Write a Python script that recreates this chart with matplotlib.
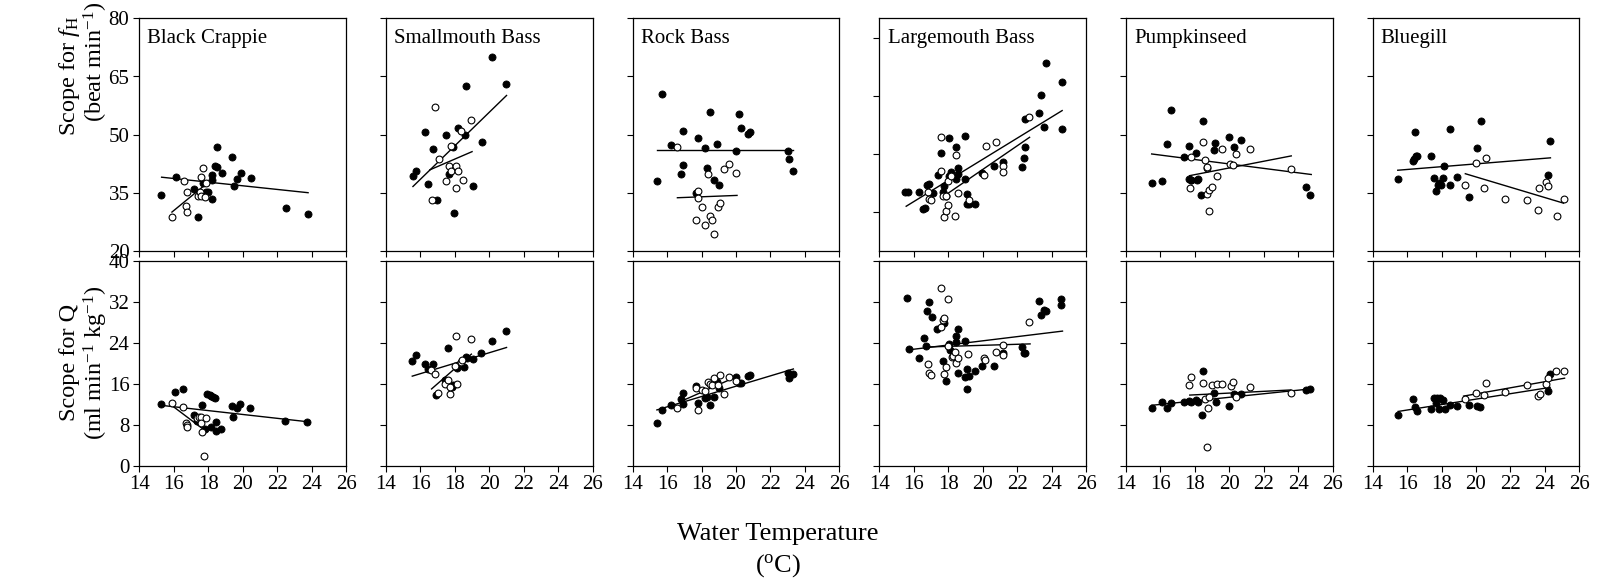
"""
Scope for heart rate (fH) and cardiac output (Q) vs water temperature,
six centrarchid species. Filled and open symbols are two groups, each with
its own least-squares line (end points read off the original figure).
"""
import matplotlib
matplotlib.use("Agg")
import matplotlib.pyplot as plt

plt.rcParams["font.family"] = ["Liberation Serif", "DejaVu Serif"]
plt.rcParams["mathtext.fontset"] = "custom"
plt.rcParams["mathtext.rm"] = "Liberation Serif"
plt.rcParams["mathtext.it"] = "Liberation Serif:italic"

SPECIES = ["Black Crappie", "Smallmouth Bass", "Rock Bass",
           "Largemouth Bass", "Pumpkinseed", "Bluegill"]
X_TICKS = [14, 16, 18, 20, 22, 24, 26]
FH_TICKS = [20, 35, 50, 65, 80]
FH_TICKS_LM = [30, 45, 60, 75]   # the Largemouth panel has its ticks shifted
Q_TICKS = [0, 8, 16, 24, 32, 40]

# ---- scope for fH (beat min-1) ----
BC_FH_FILLED = [(15.29, 34.5), (16.12, 39.0), (17.2, 36.0), (17.4, 28.7), (17.7, 37.6),
                (17.9, 35.1), (18.0, 35.1), (18.2, 33.5), (18.2, 39.6), (18.2, 38.3),
                (18.4, 42.0), (18.5, 41.7), (18.5, 46.9), (18.8, 40.1), (19.4, 44.3),
                (19.5, 36.8), (19.7, 38.6), (19.9, 40.0), (20.5, 38.7), (22.5, 31.1),
                (23.8, 29.6)]
BC_FH_OPEN = [(15.9, 28.6), (16.6, 38.1), (16.7, 31.5), (16.8, 35.1), (16.8, 30.0),
              (17.4, 34.1), (17.5, 35.2), (17.6, 39.0), (17.6, 34.1), (17.7, 41.5),
              (17.8, 33.8), (17.9, 37.5)]
BC_FH_LINES = [((15.3, 23.8), (39.0, 35.0)), ((15.9, 17.9), (30.0, 37.3))]

SB_FH_FILLED = [(15.57, 39.2), (15.76, 40.5), (16.27, 50.7), (16.47, 37.3), (16.76, 46.4),
                (16.98, 33.0), (17.47, 49.8), (17.67, 39.8), (17.88, 46.8), (17.98, 29.8),
                (18.18, 51.6), (18.57, 49.9), (18.67, 62.6), (19.06, 36.8), (19.55, 48.0),
                (20.16, 70.1), (20.96, 63.0)]
SB_FH_OPEN = [(16.67, 33.2), (16.86, 57.1), (17.06, 43.6), (17.47, 38.0), (17.67, 41.9),
              (17.76, 40.6), (17.76, 47.1), (18.06, 42.0), (18.06, 36.1), (18.16, 40.7),
              (18.37, 50.9), (18.47, 38.3), (18.96, 53.7)]
SB_FH_LINES = [((15.57, 21.0), (36.6, 60.1)), ((16.55, 19.0), (40.9, 45.6))]

RB_FH_FILLED = [(15.41, 38.1), (15.71, 60.6), (16.2, 47.2), (16.8, 39.9), (16.9, 42.1),
                (16.9, 51.0), (17.69, 34.8), (17.8, 49.0), (18.2, 46.6), (18.3, 41.5),
                (18.5, 55.8), (18.7, 38.3), (18.9, 47.5), (19.0, 36.9), (20.0, 45.7),
                (20.2, 55.2), (20.3, 51.8), (20.7, 50.1), (20.8, 50.7), (23.0, 45.7),
                (23.1, 43.8), (23.3, 40.5)]
RB_FH_OPEN = [(16.59, 46.7), (17.69, 27.9), (17.8, 35.4), (17.8, 33.7), (18.0, 31.4),
              (18.2, 26.7), (18.4, 39.7), (18.5, 29.0), (18.6, 27.9), (18.7, 24.3),
              (18.98, 31.2), (19.1, 32.4), (19.3, 41.2), (19.6, 42.3), (20.0, 40.2)]
RB_FH_LINES = [((15.4, 23.3), (46.0, 46.0)), ((16.6, 20.06), (33.7, 34.3))]

LM_FH_FILLED = [(15.52, 35.1), (15.69, 35.1), (16.3, 35.1), (16.56, 30.8), (16.66, 31.0),
                (16.74, 37.1), (16.87, 37.3), (17.09, 35.0), (17.39, 39.5), (17.56, 45.3),
                (17.68, 35.1), (17.78, 36.7), (17.88, 34.1), (18.07, 49.0), (18.07, 39.3),
                (18.17, 40.3), (18.45, 38.6), (18.47, 46.7), (18.57, 41.5), (18.57, 39.8),
                (18.98, 49.6), (18.98, 38.5), (19.08, 34.6), (19.08, 32.1), (19.2, 32.1),
                (19.57, 32.1), (19.96, 40.0), (20.67, 42.0), (21.19, 43.0), (22.27, 41.6),
                (22.41, 43.9), (22.46, 46.7), (22.48, 53.9), (23.27, 55.5), (23.39, 60.2),
                (23.57, 52.0), (23.69, 68.4), (24.61, 63.6), (24.61, 51.4)]
LM_FH_OPEN = [(16.8, 35.1), (16.89, 33.5), (16.99, 33.2), (17.56, 49.3), (17.58, 40.7),
              (17.68, 34.2), (17.78, 28.8), (17.88, 30.3), (17.88, 34.2), (17.98, 31.8),
              (18.0, 38.0), (18.15, 39.4), (18.39, 28.9), (18.47, 44.8), (18.59, 34.8),
              (19.18, 33.2), (20.08, 39.5), (20.18, 47.1), (20.79, 48.2), (21.19, 42.0),
              (21.19, 40.4), (22.7, 54.5)]
LM_FH_LINES = [((15.56, 24.61), (31.5, 56.2)), ((17.84, 22.72), (34.4, 49.3))]

PS_FH_FILLED = [(15.49, 37.5), (16.1, 38.0), (16.39, 47.6), (16.59, 56.4), (17.39, 44.2),
                (17.67, 47.0), (17.65, 38.5), (17.75, 38.2), (17.8, 38.4), (18.08, 45.3),
                (18.12, 38.3), (18.18, 38.5), (18.37, 34.4), (18.47, 53.4), (19.08, 46.1),
                (19.18, 47.8), (19.98, 49.5), (20.27, 46.7), (20.67, 48.6), (24.47, 36.4),
                (24.69, 34.4)]
PS_FH_OPEN = [(17.69, 36.1), (17.8, 44.3), (18.47, 48.1), (18.61, 43.4), (18.69, 41.4),
              (18.7, 41.6), (18.7, 34.6), (18.8, 35.7), (18.8, 30.2), (18.98, 36.6),
              (19.27, 39.3), (19.57, 46.2), (20.06, 42.4), (20.18, 42.2), (20.37, 45.1),
              (21.18, 46.3), (23.57, 41.2)]
PS_FH_LINES = [((15.49, 24.75), (45.0, 39.7)), ((17.69, 23.59), (39.4, 44.5))]

BG_FH_FILLED = [(15.46, 38.5), (16.35, 43.3), (16.43, 43.8), (16.51, 44.4), (16.58, 44.6),
                (16.45, 50.8), (17.37, 44.4), (17.57, 38.7), (17.67, 35.4), (17.77, 37.1),
                (17.87, 37.4), (17.96, 37.1), (18.06, 38.9), (18.16, 41.9), (18.48, 51.4),
                (18.48, 37.0), (18.87, 39.1), (19.58, 33.8), (20.06, 46.5), (20.27, 53.6),
                (24.18, 39.5), (24.28, 48.3)]
BG_FH_OPEN = [(19.36, 37.1), (19.98, 42.6), (20.59, 43.9), (20.47, 36.1), (21.67, 33.4),
              (22.97, 33.0), (23.59, 30.5), (23.68, 36.1), (24.08, 37.7), (24.18, 36.7),
              (24.69, 29.0), (25.08, 33.4)]
BG_FH_LINES = [((15.46, 24.32), (40.8, 44.0)), ((19.38, 25.08), (39.9, 32.3))]

# ---- scope for Q (ml min-1 kg-1) ----
BC_Q_FILLED = [(15.27, 12.1), (16.08, 14.4), (16.57, 15.0), (17.18, 9.9), (17.37, 8.8),
               (17.67, 11.8), (17.84, 7.1), (17.96, 14.1), (18.08, 13.9), (18.18, 13.7),
               (18.18, 7.5), (18.27, 13.4), (18.37, 13.2), (18.47, 8.6), (18.47, 6.7),
               (18.76, 7.2), (19.37, 11.6), (19.47, 9.6), (19.67, 11.2), (19.86, 12.1),
               (20.45, 11.3), (22.45, 8.8), (23.75, 8.6)]
BC_Q_OPEN = [(15.88, 12.2), (16.57, 11.4), (16.69, 8.4), (16.78, 7.9), (16.78, 7.5),
             (17.37, 9.3), (17.47, 9.5), (17.57, 9.6), (17.57, 8.4), (17.67, 6.6),
             (17.86, 9.3), (17.76, 1.8)]
BC_Q_LINES = [((15.27, 23.75), (11.8, 8.6)), ((15.88, 17.69), (11.8, 7.2))]

SB_Q_FILLED = [(15.53, 20.5), (15.75, 21.6), (16.24, 19.9), (16.43, 18.8), (16.73, 19.9),
               (16.92, 13.8), (17.43, 16.8), (17.63, 23.0), (17.83, 15.3), (17.92, 15.8),
               (18.14, 19.0), (18.53, 19.3), (18.63, 21.2), (18.73, 21.0), (19.05, 20.9),
               (19.54, 22.1), (20.16, 24.4), (20.95, 26.4)]
SB_Q_OPEN = [(16.63, 18.7), (16.83, 18.0), (17.02, 14.2), (17.43, 16.0), (17.63, 16.8),
             (17.72, 14.1), (17.72, 15.4), (18.02, 19.5), (18.04, 25.3), (18.14, 16.0),
             (18.34, 20.2), (18.44, 20.6), (18.94, 24.8)]
SB_Q_LINES = [((15.53, 21.0), (17.5, 23.1)), ((16.65, 18.96), (15.0, 21.8))]

RB_Q_FILLED = [(15.41, 8.3), (15.71, 10.9), (16.2, 11.9), (16.8, 13.0), (16.9, 14.2),
               (16.9, 12.1), (17.69, 15.5), (17.8, 12.2), (18.2, 13.3), (18.3, 13.5),
               (18.5, 11.9), (18.7, 13.5), (18.9, 16.4), (19.0, 15.1), (20.0, 17.3),
               (20.2, 16.2), (20.3, 16.2), (20.7, 17.5), (20.8, 17.7), (23.0, 18.2),
               (23.1, 17.2), (23.3, 17.9)]
RB_Q_OPEN = [(16.59, 11.3), (17.69, 15.1), (17.8, 10.9), (18.0, 14.8), (18.2, 14.6),
             (18.4, 16.4), (18.5, 15.9), (18.6, 15.7), (18.7, 17.2), (18.98, 15.7),
             (19.1, 17.7), (19.3, 14.1), (19.6, 17.3), (20.0, 16.6)]
RB_Q_LINES = [((15.41, 23.33), (10.9, 18.9)), ((16.76, 20.1), (12.5, 17.5))]

LM_Q_FILLED = [(15.61, 32.7), (15.71, 22.8), (16.29, 21.0), (16.59, 24.9), (16.69, 23.4),
               (16.78, 30.2), (16.88, 32.0), (17.08, 29.0), (17.37, 26.7), (17.67, 20.5),
               (17.76, 27.8), (17.88, 16.6), (18.06, 23.7), (18.08, 22.7), (18.45, 25.3),
               (18.47, 24.1), (18.57, 26.7), (18.57, 18.1), (18.96, 17.3), (18.98, 24.4),
               (19.06, 18.8), (19.08, 15.0), (19.18, 17.5), (19.57, 18.6), (19.98, 19.5),
               (20.67, 19.5), (21.18, 22.1), (22.27, 23.1), (22.37, 22.1), (22.47, 22.1),
               (23.27, 32.2), (23.39, 29.5), (23.57, 30.5), (23.69, 30.3), (24.57, 32.5),
               (24.57, 31.4)]
LM_Q_OPEN = [(16.8, 19.9), (16.9, 18.1), (17.0, 17.7), (17.59, 34.7), (17.59, 27.1),
             (17.69, 28.5), (17.78, 28.9), (17.78, 18.0), (17.88, 19.2), (17.98, 32.5),
             (18.0, 23.4), (18.2, 21.3), (18.29, 21.4), (18.39, 22.2), (18.47, 20.0),
             (18.59, 21.0), (19.16, 21.9), (20.06, 21.0), (20.16, 20.7), (20.76, 22.3),
             (21.18, 23.6), (21.18, 21.6), (22.67, 28.0)]
LM_Q_LINES = [((15.61, 24.63), (22.6, 26.3)), ((16.8, 22.75), (23.2, 23.8))]

PS_Q_FILLED = [(15.49, 11.2), (16.1, 12.5), (16.39, 11.2), (16.59, 12.3), (17.39, 12.4),
               (17.67, 12.7), (17.76, 12.5), (18.06, 12.8), (18.18, 12.4), (18.41, 9.9),
               (18.49, 18.6), (19.1, 14.2), (19.2, 12.5), (20.0, 11.7), (20.29, 14.0),
               (20.7, 14.0), (24.47, 14.8), (24.69, 14.9)]
PS_Q_OPEN = [(17.67, 15.7), (17.78, 17.3), (18.49, 16.2), (18.59, 13.1), (18.7, 3.6),
             (18.78, 11.2), (18.8, 13.5), (18.98, 15.7), (19.29, 16.0), (19.59, 16.0),
             (20.08, 15.5), (20.18, 16.3), (20.39, 13.5), (21.18, 15.3), (23.57, 14.3)]
PS_Q_LINES = [((15.49, 24.69), (11.8, 15.0)), ((17.7, 23.57), (13.8, 14.8))]

BG_Q_FILLED = [(15.48, 9.9), (16.36, 13.0), (16.46, 11.4), (16.56, 10.6), (17.37, 11.0),
               (17.54, 13.2), (17.66, 12.3), (17.74, 13.2), (17.86, 11.0), (17.94, 13.3),
               (18.06, 12.9), (18.19, 11.0), (18.49, 11.8), (18.88, 11.6), (19.57, 11.9),
               (20.06, 11.7), (20.26, 11.4), (24.18, 14.6), (24.28, 17.9)]
BG_Q_OPEN = [(19.37, 13.0), (19.98, 14.2), (20.48, 13.9), (20.59, 16.2), (21.68, 14.4),
             (22.98, 15.8), (23.57, 13.6), (23.69, 14.1), (24.08, 16.0), (24.18, 17.1),
             (24.67, 18.5), (25.08, 18.6)]
BG_Q_LINES = [((15.48, 24.30), (10.6, 15.3)), ((19.28, 25.14), (13.6, 17.1))]

FH_PANELS = [(BC_FH_FILLED, BC_FH_OPEN, BC_FH_LINES), (SB_FH_FILLED, SB_FH_OPEN, SB_FH_LINES),
             (RB_FH_FILLED, RB_FH_OPEN, RB_FH_LINES), (LM_FH_FILLED, LM_FH_OPEN, LM_FH_LINES),
             (PS_FH_FILLED, PS_FH_OPEN, PS_FH_LINES), (BG_FH_FILLED, BG_FH_OPEN, BG_FH_LINES)]
Q_PANELS = [(BC_Q_FILLED, BC_Q_OPEN, BC_Q_LINES), (SB_Q_FILLED, SB_Q_OPEN, SB_Q_LINES),
            (RB_Q_FILLED, RB_Q_OPEN, RB_Q_LINES), (LM_Q_FILLED, LM_Q_OPEN, LM_Q_LINES),
            (PS_Q_FILLED, PS_Q_OPEN, PS_Q_LINES), (BG_Q_FILLED, BG_Q_OPEN, BG_Q_LINES)]


def draw(ax, filled, hollow, lines):
    for xs, ys in lines:
        ax.plot(xs, ys, color="black", lw=1.0, zorder=2)
    ax.scatter([p[0] for p in filled], [p[1] for p in filled], s=26,
               facecolor="black", edgecolor="black", lw=0.6, zorder=3)
    ax.scatter([p[0] for p in hollow], [p[1] for p in hollow], s=24,
               facecolor="white", edgecolor="black", lw=0.8, zorder=3)


def style(ax, xlabels, ylabels):
    ax.set_xlim(14, 26)
    ax.set_xticks(X_TICKS)
    ax.tick_params(direction="out", length=4, width=0.8, labelsize=15,
                   labelbottom=xlabels, labelleft=ylabels, pad=3)
    for sp in ax.spines.values():
        sp.set_linewidth(0.9)


fig = plt.figure(figsize=(16.05, 5.79), dpi=100)
W, H = 1605.0, 579.0
lefts = [139.2, 385.9, 632.6, 879.3, 1126.0, 1372.6]
pw = 206.8

for i, name in enumerate(SPECIES):
    ax = fig.add_axes([lefts[i] / W, 1 - 250.8 / H, pw / W, 232.4 / H])
    draw(ax, *FH_PANELS[i])
    ax.set_ylim(20, 80)
    ax.set_yticks(FH_TICKS_LM if name == "Largemouth Bass" else FH_TICKS)
    style(ax, False, i == 0)
    ax.text(0.04, 0.955, name, transform=ax.transAxes, fontsize=15,
            ha="left", va="top")

    ax = fig.add_axes([lefts[i] / W, 1 - 465.7 / H, pw / W, 204.7 / H])
    draw(ax, *Q_PANELS[i])
    ax.set_ylim(0, 40)
    ax.set_yticks(Q_TICKS)
    style(ax, True, i == 0)

fig.text(70 / W, 1 - 76 / H, r"Scope for $\mathit{f}_{\rm H}$", rotation=90,
         ha="center", va="center", fontsize=17.5)
fig.text(96 / W, 1 - 62 / H, r"(beat min$^{-1}$)", rotation=90,
         ha="center", va="center", fontsize=17.5)
fig.text(70 / W, 1 - 362 / H, "Scope for Q", rotation=90,
         ha="center", va="center", fontsize=17.5)
fig.text(96 / W, 1 - 363 / H, r"(ml min$^{-1}$ kg$^{-1}$)", rotation=90,
         ha="center", va="center", fontsize=17.5)
fig.text(778 / W, 1 - 534 / H, "Water Temperature", ha="center", va="center",
         fontsize=19)
fig.text(778 / W, 1 - 566 / H, r"($^{\rm o}$C)", ha="center", va="center",
         fontsize=19)

fig.savefig("out.png", dpi=100)
